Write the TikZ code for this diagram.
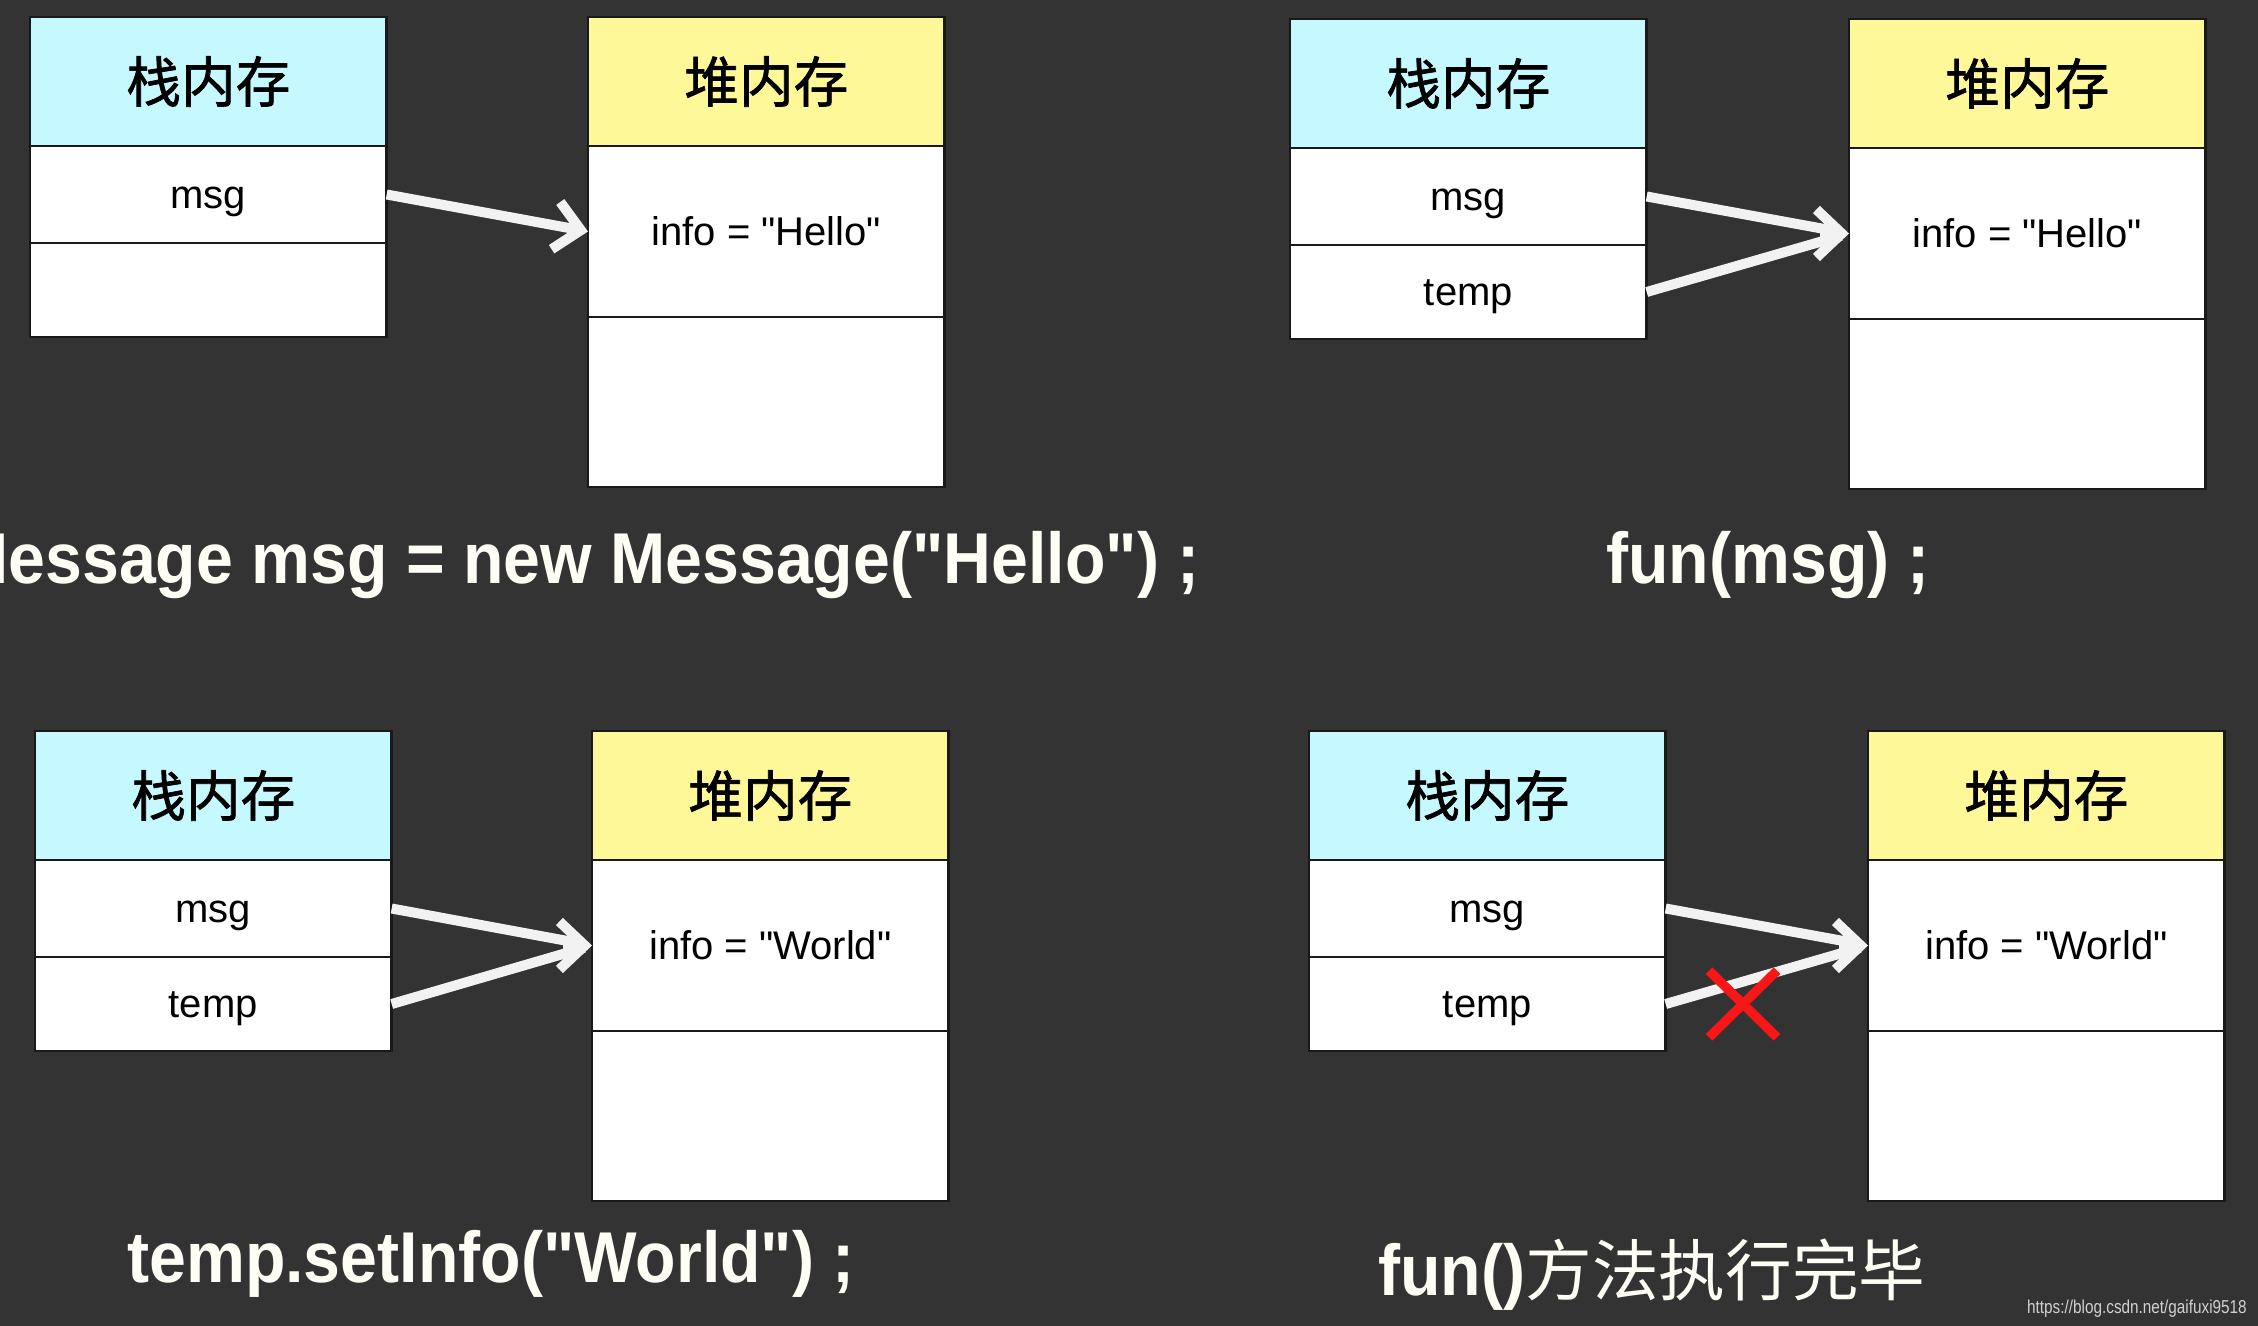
\documentclass[tikz,border=0pt]{standalone}
\usepackage{fontspec}
\setmainfont{Liberation Sans}
\newfontfamily\cjkfont{Noto Sans CJK SC}
\newfontfamily\headfont[FakeBold=1.3]{Noto Sans CJK SC}
\newfontfamily\cellfont{Liberation Sans}
\newfontfamily\codefont[FakeStretch=0.92]{Liberation Sans}
\newfontfamily\markfont[FakeStretch=0.82]{Liberation Sans}
\usepackage{tikz}
\usetikzlibrary{positioning, arrows.meta, shapes.misc}
\definecolor{slide}{RGB}{51,51,51}
\definecolor{stackcyan}{RGB}{198,249,255}
\definecolor{heapyellow}{RGB}{255,248,153}
\definecolor{crossred}{RGB}{248,22,22}

\begin{document}
\begin{tikzpicture}[x=0.75pt,y=0.75pt,yscale=-1,xscale=1,
                    cell/.style={draw=black!90, line width=1.8pt, fill=white, minimum width=267.5pt,
                                 inner sep=0pt, outer sep=0pt, text height=27pt, text depth=6.5pt,
                                 font=\cellfont\fontsize{30}{34}\selectfont},
                    stackhead/.style={cell, fill=stackcyan, minimum height=96.75pt,
                                      text height=36pt, text depth=5pt,
                                      font=\headfont\fontsize{41}{46}\selectfont},
                    heaphead/.style={stackhead, fill=heapyellow},
                    row/.style={cell, minimum height=72.75pt},
                    lastrow/.style={cell, minimum height=70.5pt},
                    infocell/.style={cell, minimum height=128.25pt},
                    freecell/.style={cell, minimum height=127.5pt},
                    ptr/.style={draw=white!95!black, line width=7.5pt},
                    barb/.style={ptr, -{Straight Barb[length=19pt,width=36pt]}},
                    code/.style={text=white!96!yellow, inner sep=0pt,
                                 font=\codefont\bfseries\fontsize{54}{60}\selectfont}]
%set diagram to the size of the slide
\useasboundingbox (0,0) rectangle (2258,1326);
\fill[slide] (0,0) rectangle (2258,1326);

%Shape: Rectangle -- first step
\node[stackhead, anchor=north west] (stackA) at (30,17) {栈内存};
\node[row, below=0pt of stackA] (msgA) {msg};
\node[lastrow, below=0pt of msgA] (emptyA) {};
\node[heaphead, anchor=north west] (heapA) at (588,17) {堆内存};
\node[infocell, below=0pt of heapA] (infoA) {info = "Hello"};
\node[freecell, below=0pt of infoA] (freeA) {};
%Straight Lines
\draw[barb] (msgA.east) -- (infoA.west);

%Shape: Rectangle -- second step
\node[stackhead, anchor=north west] (stackB) at (1290,19) {栈内存};
\node[row, below=0pt of stackB] (msgB) {msg};
\node[lastrow, below=0pt of msgB] (tempB) {temp};
\node[heaphead, anchor=north west] (heapB) at (1849,19) {堆内存};
\node[infocell, below=0pt of heapB] (infoB) {info = "Hello"};
\node[freecell, below=0pt of infoB] (freeB) {};
%Straight Lines
\draw[ptr, shorten >=6pt] (msgB.east) -- (infoB.west);
\draw[ptr, shorten >=6pt] (tempB.east) -- (infoB.west);
\draw[barb] ([xshift=-22pt]infoB.west) -- (infoB.west);

%Shape: Rectangle -- third step
\node[stackhead, anchor=north west] (stackC) at (35,731) {栈内存};
\node[row, below=0pt of stackC] (msgC) {msg};
\node[lastrow, below=0pt of msgC] (tempC) {temp};
\node[heaphead, anchor=north west] (heapC) at (592,731) {堆内存};
\node[infocell, below=0pt of heapC] (infoC) {info = "World"};
\node[freecell, below=0pt of infoC] (freeC) {};
%Straight Lines
\draw[ptr, shorten >=6pt] (msgC.east) -- (infoC.west);
\draw[ptr, shorten >=6pt] (tempC.east) -- (infoC.west);
\draw[barb] ([xshift=-22pt]infoC.west) -- (infoC.west);

%Shape: Rectangle -- fourth step
\node[stackhead, anchor=north west] (stackD) at (1309,731) {栈内存};
\node[row, below=0pt of stackD] (msgD) {msg};
\node[lastrow, below=0pt of msgD] (tempD) {temp};
\node[heaphead, anchor=north west] (heapD) at (1868,731) {堆内存};
\node[infocell, below=0pt of heapD] (infoD) {info = "World"};
\node[freecell, below=0pt of infoD] (freeD) {};
%Straight Lines
\draw[ptr, shorten >=6pt] (msgD.east) -- (infoD.west);
\draw[ptr, shorten >=6pt] (tempD.east) -- (infoD.west);
\draw[barb] ([xshift=-22pt]infoD.west) -- (infoD.west);
%Shape: Cross
\node[cross out, draw=crossred, line width=7pt, minimum width=44pt, minimum height=43pt,
      inner sep=0pt] (cut) at (1743,1004) {};

% Text Node
\node[code, anchor=base east] (stepA) at (1200,583) {Message msg = new Message("Hello") ;};
% Text Node
\node[code, anchor=base west] (stepB) at (1606,583) {fun(msg) ;};
% Text Node
\node[code, anchor=base west] (stepC) at (127,1282) {temp.setInfo("World") ;};
% Text Node
\node[code, anchor=base west] (stepD) at (1378,1295) {fun()\cjkfont\mdseries\fontsize{50}{56}\selectfont 方法执行完毕};
% Text Node
\node[anchor=base east, inner sep=0pt, text=white!82!black,
      font=\markfont\fontsize{14}{16}\selectfont] (mark) at (2247,1313) {https://blog.csdn.net/gaifuxi9518};

\end{tikzpicture}
\end{document}
